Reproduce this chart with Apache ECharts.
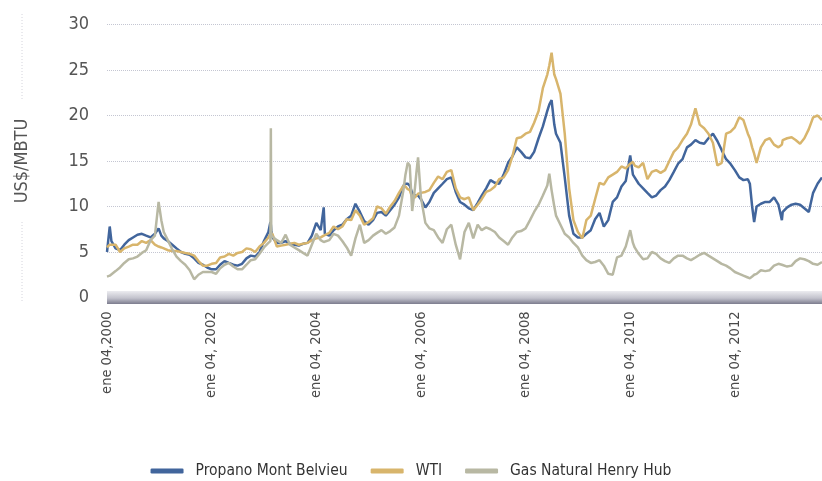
<!DOCTYPE html>
<html>
<head>
<meta charset="utf-8">
<script src="https://cdn.jsdelivr.net/npm/echarts@6/dist/echarts.min.js"></script>
<style>
  html, body { margin: 0; padding: 0; background: #fff; }
  #chart { width: 822px; height: 481px; }
</style>
</head>
<body>
<div id="chart"></div>
<script>
// fechas de muestreo (mensual, con puntos extra en los picos)
const dates = [
  '2000-01-01','2000-01-20','2000-02-01','2000-03-01','2000-04-01','2000-05-01','2000-06-01','2000-07-01','2000-08-01','2000-09-01','2000-10-01','2000-11-01','2000-12-01','2000-12-27',
  '2001-01-15','2001-02-01','2001-03-01','2001-04-01','2001-05-01','2001-06-01','2001-07-01','2001-08-01','2001-09-01','2001-10-01','2001-11-01','2001-12-01',
  '2002-01-01','2002-02-01','2002-03-01','2002-04-01','2002-05-01','2002-06-01','2002-07-01','2002-08-01','2002-09-01','2002-10-01','2002-11-01','2002-12-01',
  '2003-01-01','2003-02-01','2003-02-15','2003-02-18','2003-02-21','2003-03-01','2003-04-01','2003-05-01','2003-06-01','2003-07-01','2003-08-01','2003-09-01','2003-10-01','2003-11-01','2003-12-01',
  '2004-01-01','2004-02-01','2004-02-22','2004-03-01','2004-04-01','2004-05-01','2004-06-01','2004-07-01','2004-08-01','2004-09-01','2004-10-01','2004-11-01','2004-12-01',
  '2005-01-01','2005-02-01','2005-03-01','2005-04-01','2005-05-01','2005-06-01','2005-07-01','2005-08-01','2005-09-01','2005-09-15','2005-10-01','2005-10-15','2005-11-01','2005-11-20','2005-12-01','2005-12-12',
  '2006-01-01','2006-02-01','2006-03-01','2006-04-01','2006-05-01','2006-06-01','2006-07-01','2006-08-01','2006-09-01','2006-10-01','2006-11-01','2006-12-01',
  '2007-01-01','2007-02-01','2007-03-01','2007-04-01','2007-05-01','2007-06-01','2007-07-01','2007-08-01','2007-09-01','2007-10-01','2007-11-01','2007-12-01',
  '2008-01-01','2008-02-01','2008-03-01','2008-04-01','2008-05-01','2008-06-01','2008-06-15','2008-07-01','2008-07-20','2008-08-01','2008-09-01','2008-10-01','2008-11-01','2008-12-01',
  '2009-01-01','2009-02-01','2009-03-01','2009-04-01','2009-05-01','2009-06-01','2009-07-01','2009-08-01','2009-09-01','2009-10-01','2009-11-01','2009-12-01',
  '2010-01-01','2010-01-20','2010-02-01','2010-03-01','2010-04-01','2010-05-01','2010-06-01','2010-07-01','2010-08-01','2010-09-01','2010-10-01','2010-11-01','2010-12-01',
  '2011-01-01','2011-02-01','2011-03-01','2011-04-01','2011-05-01','2011-06-01','2011-07-01','2011-08-01','2011-09-01','2011-10-01','2011-11-01','2011-12-01',
  '2012-01-01','2012-02-01','2012-03-01','2012-04-01','2012-04-15','2012-05-01','2012-05-15','2012-06-01','2012-07-01','2012-08-01','2012-09-01','2012-10-01','2012-11-01','2012-11-25','2012-12-01',
  '2013-01-01','2013-02-01','2013-03-01','2013-04-01','2013-05-01','2013-06-01','2013-07-01','2013-08-01','2013-09-01'
];

// US$/MBTU
const propano = [
  5.0, 7.8, 6.2, 5.4, 5.2, 5.8, 6.3, 6.6, 6.9, 7.0, 6.8, 6.6, 7.0, 7.6,
  6.8, 6.5, 6.2, 5.8, 5.4, 5.0, 4.8, 4.7, 4.3, 3.8, 3.6, 3.3,
  3.1, 3.1, 3.6, 4.0, 3.8, 3.6, 3.5, 3.7, 4.3, 4.6, 4.5, 5.0,
  6.2, 7.2, 8.3, 8.0, 7.4, 6.6, 6.0, 6.0, 6.2, 5.9, 5.8, 5.7, 5.9, 6.0, 6.8,
  8.2, 7.4, 9.9, 7.0, 6.8, 7.4, 7.8, 8.0, 8.6, 9.0, 10.3, 9.4, 8.4,
  8.0, 8.5, 9.3, 9.4, 9.0, 9.6, 10.2, 11.0, 12.3, 12.5, 12.5, 12.3, 11.5, 11.2, 11.0, 11.2,
  10.8, 9.9, 10.5, 11.5, 12.0, 12.5, 13.0, 13.2, 11.6, 10.5, 10.2, 9.8,
  9.6, 10.4, 11.2, 12.0, 12.9, 12.6, 12.5, 13.5, 14.8, 15.5, 16.5, 16.0,
  15.4, 15.3, 16.0, 17.5, 18.8, 20.5, 21.2, 21.7, 19.0, 18.0, 17.0, 13.2, 9.0, 7.0,
  6.6, 6.6, 7.0, 7.4, 8.6, 9.3, 7.8, 8.5, 10.5, 11.0, 12.2, 12.8,
  15.6, 13.5, 13.2, 12.5, 12.0, 11.5, 11.0, 11.2, 11.8, 12.2, 12.9, 13.8, 14.7,
  15.2, 16.5, 16.8, 17.3, 17.0, 16.9, 17.5, 18.0, 17.2, 16.2, 15.2, 14.7,
  14.0, 13.2, 12.9, 13.0, 12.5, 10.0, 8.3, 10.0, 10.3, 10.5, 10.5, 11.0, 10.2, 8.5, 9.4,
  9.9, 10.2, 10.3, 10.2, 9.8, 9.4, 11.5, 12.5, 13.2
];
const wti = [
  5.5, 5.8, 6.0, 5.8, 5.0, 5.4, 5.6, 5.8, 5.8, 6.2, 6.0, 6.3, 5.8, 5.6,
  5.5, 5.4, 5.2, 5.1, 5.1, 5.0, 4.9, 4.8, 4.6, 4.0, 3.5, 3.5,
  3.7, 3.8, 4.4, 4.5, 4.8, 4.6, 4.9, 5.0, 5.4, 5.3, 5.0, 5.6,
  6.0, 6.6, 7.0, 7.1, 7.0, 7.0, 5.6, 5.7, 5.8, 5.9, 6.0, 5.8, 5.9, 6.0, 6.3,
  6.5, 6.6, 6.8, 7.0, 7.1, 7.8, 7.5, 7.8, 8.6, 8.5, 9.6, 9.0, 8.0,
  8.3, 8.7, 10.0, 9.8, 9.2, 10.0, 10.6, 11.5, 12.3, 12.2, 11.9, 11.8, 11.0, 11.0, 11.2, 11.4,
  11.5, 11.6, 11.8, 12.6, 13.3, 13.0, 13.8, 14.0, 12.0, 11.0, 10.8, 11.0,
  9.6, 10.2, 10.8, 11.6, 11.8, 12.2, 13.0, 13.2, 14.0, 15.5, 17.5, 17.6,
  18.0, 18.2, 19.2, 20.5, 23.0, 24.5, 25.5, 26.9, 24.5, 24.0, 22.4, 18.0, 12.0, 8.5,
  7.2, 6.5, 8.5, 9.0, 10.8, 12.6, 12.4, 13.2, 13.5, 13.8, 14.4, 14.2,
  14.7, 14.9, 14.5, 14.3, 14.8, 13.0, 13.8, 14.0, 13.7, 14.0, 15.0, 16.0, 16.5,
  17.3, 18.0, 19.0, 20.8, 19.0, 18.6, 18.0, 17.0, 14.5, 14.8, 18.0, 18.2,
  18.7, 19.8, 19.5, 18.0, 17.5, 16.5, 15.8, 14.8, 16.5, 17.3, 17.5, 16.8, 16.5, 16.8, 17.3,
  17.5, 17.6, 17.3, 16.9, 17.5, 18.5, 19.8, 20.0, 19.5
];
const gasHH = [
  2.3, 2.4, 2.6, 2.9, 3.3, 3.8, 4.2, 4.3, 4.5, 4.9, 5.2, 6.3, 6.8, 10.5,
  8.5, 7.2, 6.3, 5.3, 4.5, 4.0, 3.6, 3.0, 2.0, 2.5, 2.8, 2.8,
  2.8, 2.6, 3.2, 3.6, 3.8, 3.4, 3.1, 3.1, 3.6, 4.1, 4.2, 4.8,
  5.5, 6.0, 6.2, 18.6, 6.8, 6.8, 6.3, 6.0, 6.9, 5.8, 5.5, 5.2, 4.9, 4.6, 5.8,
  7.0, 6.3, 6.1, 6.0, 6.3, 7.0, 6.8, 6.2, 5.5, 4.6, 6.5, 8.0, 6.0,
  6.3, 6.8, 7.1, 7.4, 7.0, 7.3, 7.7, 9.0, 11.8, 13.5, 14.8, 14.5, 9.5, 12.0, 13.8, 15.4,
  11.0, 8.2, 7.6, 7.4, 6.6, 6.0, 7.5, 8.0, 5.8, 4.2, 7.2, 8.2,
  6.5, 8.0, 7.4, 7.7, 7.5, 7.2, 6.6, 6.2, 5.8, 6.6, 7.2, 7.3,
  7.6, 8.5, 9.4, 10.2, 11.2, 12.3, 13.6, 11.8, 10.0, 9.0, 8.0, 7.0, 6.6, 6.0,
  5.5, 4.6, 4.1, 3.8, 3.9, 4.1, 3.5, 2.6, 2.5, 4.4, 4.6, 5.6,
  7.4, 6.0, 5.5, 4.8, 4.2, 4.3, 5.0, 4.8, 4.3, 4.0, 3.8, 4.3, 4.6,
  4.6, 4.3, 4.1, 4.4, 4.7, 4.9, 4.6, 4.3, 4.0, 3.7, 3.5, 3.2,
  2.8, 2.6, 2.4, 2.2, 2.1, 2.3, 2.5, 2.6, 3.0, 2.9, 3.0, 3.5, 3.7, 3.6, 3.5,
  3.4, 3.5, 4.0, 4.3, 4.2, 4.0, 3.7, 3.6, 3.9
];

const seriesNames = ['Propano Mont Belvieu', 'WTI', 'Gas Natural Henry Hub'];
const colors = ['#41659c', '#d8b56c', '#b8b8a3'];
const yTicks = { min: 0, max: 30, step: 5 };

// fecha -> año decimal, para el eje de valores
function toYear(s) {
  const d = new Date(s + 'T00:00:00Z');
  const y = d.getUTCFullYear();
  const start = Date.UTC(y, 0, 1);
  const end = Date.UTC(y + 1, 0, 1);
  return y + (d.getTime() - start) / (end - start);
}
const xs = dates.map(toYear);
function pairs(vals) {
  return vals.map((v, i) => [xs[i], v]);
}

const font = "'DejaVu Sans Condensed', 'Liberation Sans Narrow', sans-serif";

const chart = echarts.init(document.getElementById('chart'), null, { renderer: 'canvas' });
const option = {
  animation: false,
  backgroundColor: '#fff',
  textStyle: { fontFamily: font },
  color: colors,
  grid: { left: 107, right: 0, top: 24.5, bottom: 183.5 },
  legend: {
    bottom: -3,
    left: 'center',
    icon: 'roundRect',
    itemWidth: 33,
    itemHeight: 5,
    itemGap: 23,
    textStyle: { fontFamily: font, fontSize: 15.5, color: '#333', padding: [0, 0, 0, 7] },
    data: seriesNames
  },
  xAxis: {
    type: 'value',
    min: 2000,
    max: xs[xs.length - 1],
    interval: 2,
    axisLine: {
      show: true,
      lineStyle: {
        width: 13,
        cap: 'butt',
        color: new echarts.graphic.LinearGradient(0, 0, 0, 1, [
          { offset: 0, color: '#ececf0' },
          { offset: 0.55, color: '#c2c2cc' },
          { offset: 1, color: '#7c7c8e' }
        ])
      }
    },
    axisTick: { show: false },
    splitLine: { show: false },
    axisLabel: {
      rotate: 90,
      margin: 14,
      fontSize: 14.5,
      color: '#4a4a4a',
      showMaxLabel: false,
      formatter: function (v) {
        return v === 2000 ? 'ene 04,2000' : 'ene 04, ' + v;
      }
    }
  },
  yAxis: {
    type: 'value',
    min: yTicks.min,
    max: yTicks.max,
    interval: yTicks.step,
    name: 'US$/MBTU',
    nameLocation: 'middle',
    nameGap: 76,
    nameTextStyle: { fontFamily: font, fontSize: 18, color: '#555' },
    axisLine: { show: false },
    axisTick: { show: false },
    axisLabel: { fontSize: 18, color: '#555', margin: 18 },
    splitLine: { lineStyle: { type: 'dotted', color: '#c4c6d2', width: 1 } }
  },
  graphic: [
    { type: 'line', silent: true, shape: { x1: 22, y1: 14, x2: 22, y2: 100 },
      style: { stroke: '#d4d4dc', lineWidth: 1, lineDash: [1, 2] } },
    { type: 'line', silent: true, shape: { x1: 22, y1: 222, x2: 22, y2: 302 },
      style: { stroke: '#d4d4dc', lineWidth: 1, lineDash: [1, 2] } }
  ],
  series: [
    { name: seriesNames[0], type: 'line', data: pairs(propano), showSymbol: false, lineStyle: { width: 2.5 } },
    { name: seriesNames[1], type: 'line', data: pairs(wti), showSymbol: false, lineStyle: { width: 2.5 } },
    { name: seriesNames[2], type: 'line', data: pairs(gasHH), showSymbol: false, lineStyle: { width: 2.5 } }
  ]
};
chart.setOption(option);
</script>
</body>
</html>
